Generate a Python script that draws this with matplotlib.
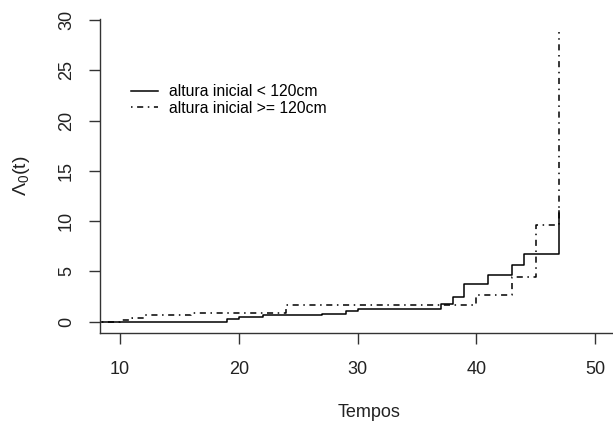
import matplotlib
matplotlib.use('Agg')
import matplotlib.pyplot as plt

plt.rcParams['font.family'] = ['Liberation Sans', 'DejaVu Sans']
plt.rcParams['mathtext.fontset'] = 'custom'
plt.rcParams['mathtext.rm'] = 'Liberation Sans'
plt.rcParams['mathtext.it'] = 'Liberation Sans:italic'

# cumulative baseline hazard, step functions
tempo_baixa = [0, 19, 20, 22, 27, 29, 30, 37, 38, 39, 41, 43, 44, 47]
haz_baixa = [0, 0.25, 0.45, 0.63, 0.76, 1.09, 1.27, 1.75, 2.45, 3.75, 4.6, 5.6, 6.75, 11.0]

tempo_alta = [0, 10, 11, 12, 16, 24, 40, 43, 45, 47]
haz_alta = [0, 0.2, 0.42, 0.65, 0.88, 1.65, 2.7, 4.4, 9.65, 28.8]

rotulos = ['altura inicial < 120cm', 'altura inicial >= 120cm']
xticks = [10, 20, 30, 40, 50]
yticks = [0, 5, 10, 15, 20, 25, 30]

fig = plt.figure(figsize=(6.13, 4.23), dpi=100)
ax = fig.add_axes([100/613, 90/423, 539/613, 313.7/423])

ax.step(tempo_baixa, haz_baixa, where='post', color='black', lw=1.1, label=rotulos[0])
ax.step(tempo_alta, haz_alta, where='post', color='black', lw=1.1,
        dashes=(1, 3, 4, 3), label=rotulos[1])

ax.set_xlim(8.316, 53.7)
ax.set_ylim(-1.12, 30.07)
ax.spines['top'].set_visible(False)
ax.spines['right'].set_visible(False)
for s in ['left', 'bottom']:
    ax.spines[s].set_color('#333333')
    ax.spines[s].set_linewidth(1.0)

ax.set_xticks(xticks)
ax.set_yticks(yticks)
ax.tick_params(axis='both', length=8, width=1.0, color='#333333', labelsize=13, colors='#222222')
ax.tick_params(axis='x', pad=12)
ax.tick_params(axis='y', pad=10)
for lab in ax.get_yticklabels():
    lab.set_rotation(90)
    lab.set_va('center')

ax.set_xlabel('Tempos', fontsize=13, labelpad=19, color='#222222')
ax.set_ylabel(r'$\mathrm{\Lambda_0(t)}$', fontsize=14, labelpad=19, color='#222222')

ax.legend(loc='upper left', bbox_to_anchor=(131/613, 1 - 84/423),
          bbox_transform=fig.transFigure, frameon=False, fontsize=11.3,
          handlelength=1.7, handletextpad=0.75, borderpad=0, borderaxespad=0,
          labelspacing=0.12)

fig.savefig('out.png', dpi=100)
